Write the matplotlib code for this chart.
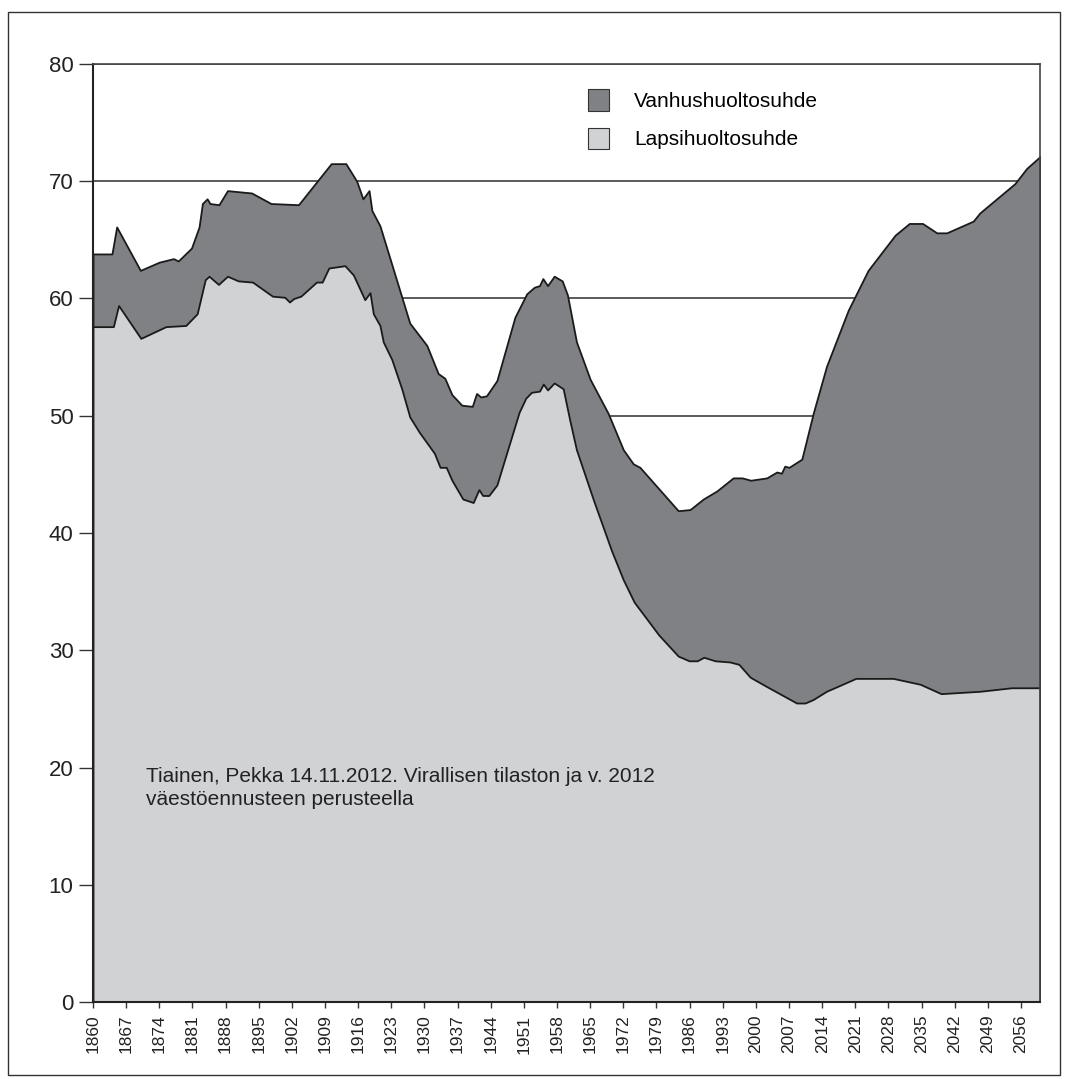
import matplotlib
matplotlib.use("Agg")
import matplotlib.pyplot as plt
from matplotlib.patches import Patch, Rectangle
import numpy as np

plt.rcParams['font.family'] = ['Liberation Sans', 'DejaVu Sans']

# Total dependency ratio (top edge of stacked area): year, value
total_years = [1860, 1864, 1865, 1870, 1874, 1877, 1878, 1880.8, 1882.4, 1883.1, 1884.1, 1884.7,
               1886.6, 1888.4, 1893.5, 1897.6, 1903.4, 1910.3, 1913.4, 1915.7, 1917, 1918.3, 1918.9,
               1920.6, 1926.9, 1930.5, 1932.9, 1934.3, 1935.8, 1937.9, 1940.1, 1941, 1941.9, 1943.1,
               1945.3, 1949.1, 1951.6, 1953.2, 1954.3, 1955, 1956, 1957.4, 1959.1, 1960.2, 1962.1,
               1965, 1968.8, 1972, 1974.1, 1975.5, 1983.6, 1986.1, 1988.9, 1991.8, 1995.2, 1997.1,
               1998.9, 2002.3, 2004.4, 2005.4, 2006.1, 2007, 2009.7, 2012.1, 2014.9, 2019.5, 2023.7,
               2029.4, 2032.4, 2035.2, 2038.2, 2040.3, 2045.9, 2047.3, 2054.7, 2057.2, 2060]
total_vals = [63.8, 63.8, 66.1, 62.4, 63.1, 63.4, 63.2, 64.3, 66.1, 68.1, 68.5, 68.1,
              68.0, 69.2, 69.0, 68.1, 68.0, 71.5, 71.5, 70.0, 68.5, 69.2, 67.5,
              66.2, 57.9, 56.0, 53.6, 53.2, 51.8, 50.9, 50.8, 51.9, 51.6, 51.7,
              53.0, 58.4, 60.4, 60.96, 61.1, 61.7, 61.1, 61.9, 61.5, 60.3, 56.3,
              53.1, 50.2, 47.1, 45.9, 45.6, 41.9, 42.0, 42.9, 43.6, 44.7, 44.7,
              44.5, 44.7, 45.2, 45.1, 45.7, 45.6, 46.3, 50.2, 54.2, 59.0, 62.4,
              65.4, 66.4, 66.4, 65.6, 65.6, 66.6, 67.3, 69.8, 71.1, 72.1]

# Child dependency ratio (Lapsihuoltosuhde): year, value
child_years = [1860, 1864.3, 1865.4, 1870.1, 1875.4, 1879.6, 1882, 1883.7, 1884.5, 1886.5, 1888.4,
               1890.7, 1893.7, 1897.9, 1900.5, 1901.5, 1902.4, 1903.9, 1907.2, 1908.4, 1909.8, 1913.2,
               1915, 1917.4, 1918.5, 1919.2, 1920.6, 1921.3, 1923.1, 1925.2, 1926.9, 1928.9, 1932.1,
               1933.3, 1934.6, 1935.8, 1938.1, 1940.3, 1941.5, 1942.3, 1943.6, 1945.3, 1948.1, 1950,
               1951.4, 1952.6, 1954.3, 1955.1, 1956, 1957.4, 1959.3, 1960.7, 1962.1, 1965.7, 1969.5,
               1972, 1974.3, 1979.5, 1983.6, 1985.9, 1987.6, 1989, 1991.4, 1994.5, 1996.4, 1998.8,
               2002.3, 2006.8, 2008.6, 2010.4, 2012.1, 2014.9, 2021.1, 2029, 2034.7, 2039.1, 2047.3,
               2054, 2060]
child_vals = [57.6, 57.6, 59.4, 56.6, 57.6, 57.7, 58.7, 61.6, 61.9, 61.2, 61.9,
              61.5, 61.4, 60.2, 60.1, 59.7, 60.0, 60.2, 61.4, 61.4, 62.6, 62.8,
              62.0, 59.9, 60.5, 58.7, 57.7, 56.3, 54.8, 52.3, 49.9, 48.6, 46.8,
              45.6, 45.6, 44.5, 42.9, 42.6, 43.7, 43.2, 43.2, 44.1, 47.8, 50.3,
              51.5, 52.0, 52.1, 52.7, 52.2, 52.8, 52.3, 49.6, 47.1, 42.8, 38.5,
              36.0, 34.1, 31.3, 29.5, 29.1, 29.1, 29.4, 29.1, 29.0, 28.8, 27.7,
              26.9, 25.9, 25.5, 25.5, 25.8, 26.5, 27.6, 27.6, 27.1, 26.3, 26.5,
              26.8, 26.8]

series_labels = ["Vanhushuoltosuhde", "Lapsihuoltosuhde"]
tick_years = list(range(1860, 2057, 7))
y_ticks = [0, 10, 20, 30, 40, 50, 60, 70, 80]
note = "Tiainen, Pekka 14.11.2012. Virallisen tilaston ja v. 2012\nväestöennusteen perusteella"

dark = "#808185"
light = "#d1d2d4"
edge = "#1a1a1a"

fig = plt.figure(figsize=(10.67, 10.79), dpi=100)
ax = fig.add_axes([93/1067, 1 - 1002/1079, (1040 - 93)/1067, (1002 - 64)/1079])

# outer frame
fig.patches.append(Rectangle((8/1067, 1 - 1075/1079), (1060 - 8)/1067, (1075 - 12)/1079,
                             transform=fig.transFigure, fill=False, edgecolor="#333333", lw=1.0))

for y in y_ticks[1:]:
    ax.axhline(y, color="#5a5a5a", lw=1.4, zorder=0)

ax.fill_between(total_years, 0, total_vals, facecolor=dark, edgecolor=edge, lw=1.3, zorder=2)
ax.fill_between(child_years, 0, child_vals, facecolor=light, edgecolor=edge, lw=1.3, zorder=3)

ax.set_xlim(1860, 2060)
ax.set_ylim(0, 80)
ax.set_yticks(y_ticks)
ax.set_yticklabels([str(v) for v in y_ticks], fontsize=16, color="#222222")
ax.set_xticks(tick_years)
ax.set_xticklabels([str(t) for t in tick_years], rotation=90, fontsize=12.5, color="#222222")
ax.tick_params(axis='y', length=10, width=1, color="#333333", pad=4)
ax.tick_params(axis='x', length=4, width=1, color="#333333", pad=5)
for s in ['left', 'bottom']:
    ax.spines[s].set_color("#222222")
    ax.spines[s].set_linewidth(1.5)
    ax.spines[s].set_zorder(5)
for s in ['top', 'right']:
    ax.spines[s].set_color("#444444")
    ax.spines[s].set_linewidth(1.2)
    ax.spines[s].set_zorder(5)

handles = [Patch(facecolor=dark, edgecolor="#333333", lw=0.8),
           Patch(facecolor=light, edgecolor="#333333", lw=0.8)]
ax.legend(handles, series_labels, loc='upper left', bbox_to_anchor=(0.523, 0.973),
          frameon=False, fontsize=15, handlelength=1.0, handleheight=1.2,
          handletextpad=1.2, labelspacing=0.8, borderaxespad=0, borderpad=0)

ax.text(1871.2, 20.05, note, fontsize=15, color="#222222", va='top', ha='left',
        linespacing=1.3, zorder=6)

fig.savefig("out.png", dpi=100, facecolor="white")
